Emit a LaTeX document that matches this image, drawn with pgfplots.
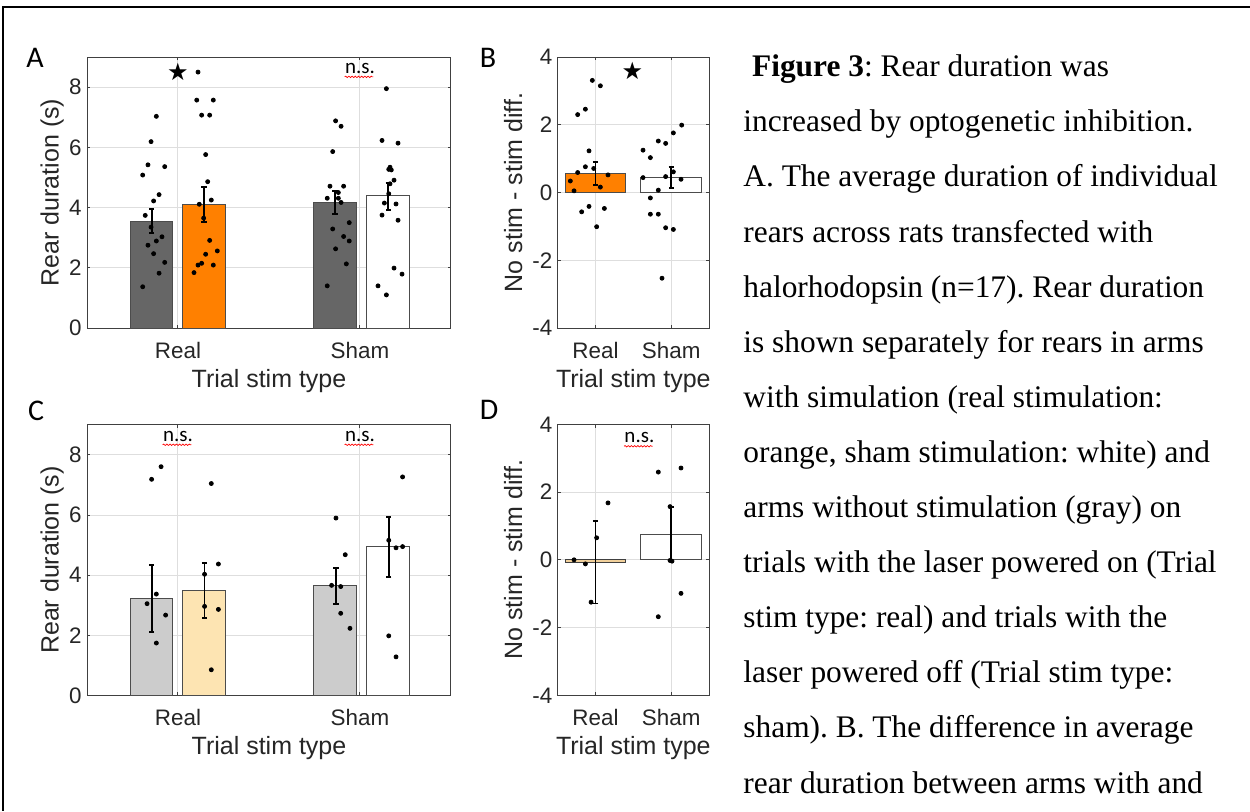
\documentclass[border=0pt]{standalone}
\usepackage{pgfplots}
\pgfplotsset{compat=1.18}
\usepackage{fontspec}
\setmainfont{Liberation Sans}
\newfontfamily\capfont{Liberation Serif}
\newfontfamily\calfont{Carlito}
\newfontfamily\symfont{DejaVu Sans}
\usetikzlibrary{decorations.pathmorphing}
\frenchspacing
\definecolor{dgray}{RGB}{102,102,102}
\definecolor{morange}{RGB}{255,128,0}
\definecolor{lgray}{RGB}{204,204,204}
\definecolor{lorange}{RGB}{253,228,178}
\tikzset{
 ns/.style={font=\calfont\fontsize{10.5}{12}\selectfont, inner sep=0pt, text=black},
 star/.style={font=\symfont\fontsize{12}{14}\selectfont, inner sep=0pt, text=black},
 wavy/.style={red, line width=0.35pt, decorate, decoration={snake, amplitude=0.35pt, segment length=1.6pt}},
}
\pgfplotsset{
 panel/.style={scale only axis, xmin=0.5, xmax=2.5, xtick={1,2}, xticklabels={Real,Sham},
  grid=major, major grid style={black!13, line width=0.5pt},
  axis line style={black!75, line width=0.5pt},
  major tick style={black!75, line width=0.5pt}, major tick length=1.6pt,
  tick label style={font=\fontsize{11.2}{13}\selectfont, text=black!85},
  xticklabel style={inner sep=0pt, yshift=-7pt},
  yticklabel style={inner sep=0pt, xshift=-2.5pt},
  label style={font=\fontsize{12.5}{14}\selectfont, text=black!85},
  xlabel={Trial stim type},
  xlabel style={at={(axis description cs:0.5,-0.195)}, anchor=center},
  clip=false},
 wide/.style={panel, width=182pt, ymin=0, ymax=9, ytick={0,2,4,6,8}, yticklabels={0,2,4,6,8},
  ylabel={Rear duration (s)}, ylabel style={at={(axis description cs:-0.096,0.5)}, anchor=center}},
 narrow/.style={panel, width=75.65pt, ymin=-4, ymax=4, ytick={-4,-2,0,2,4}, yticklabels={-4,-2,0,2,4},
  ylabel={No stim - stim diff.}, ylabel style={at={(axis description cs:-0.295,0.5)}, anchor=center}},
 barA/.style={ybar, bar width=0.233, bar shift=0pt, draw=black!70, line width=0.5pt},
 barB/.style={ybar, bar width=0.8, bar shift=0pt, draw=black!70, line width=0.5pt},
 dots/.style={only marks, mark=*, mark size=1pt, black, mark options={draw=black, fill=black}},
 errs/.style={draw=none, mark=none, forget plot, error bars/.cd, y dir=both, y explicit,
  error bar style={draw=black, line width=0.9pt},
  error mark options={draw=black, rotate=90, mark size=1.3pt, line width=0.9pt}},
}
\begin{document}
\begin{tikzpicture}
\useasboundingbox (0,0) rectangle (625pt,-405.5pt);
\fill[white] (0,0) rectangle (625pt,-405.5pt);
\draw[line width=1pt] (625pt,-3.5pt) -- (1.5pt,-3.5pt) -- (1.5pt,-405.5pt);

% ---------- Panel A ----------
\begin{axis}[wide, at={(43.5pt,-164pt)}, anchor=south west, height=135.5pt]
\addplot[barA, fill=dgray] coordinates {(0.853,3.54) (1.863,4.18)};
\addplot[barA, fill=morange] coordinates {(1.143,4.09)};
\addplot[barA, fill=white] coordinates {(2.154,4.39)};
\addplot[dots] coordinates {
(0.881,7.03) (0.852,6.19) (0.835,5.42) (0.806,5.08) (0.927,5.36) (0.896,4.43) (0.866,4.22) (0.820,3.74)
(0.852,3.35) (0.912,3.03) (0.881,2.89) (0.835,2.75) (0.866,2.47) (0.927,2.18) (0.896,1.82) (0.806,1.37)};
\addplot[dots] coordinates {
(1.110,8.50) (1.103,7.57) (1.194,7.57) (1.130,7.07) (1.174,7.07) (1.152,5.76) (1.163,4.86) (1.117,4.11)
(1.183,4.25) (1.141,3.65) (1.174,2.91) (1.152,2.45) (1.216,2.56) (1.130,2.15) (1.110,2.09) (1.194,2.09) (1.088,1.84)};
\addplot[dots] coordinates {
(1.866,6.88) (1.896,6.70) (1.850,5.86) (1.835,4.71) (1.910,4.71) (1.881,4.50) (1.820,4.31) (1.881,4.31)
(1.896,4.17) (1.941,3.50) (1.850,3.29) (1.910,3.04) (1.941,2.89) (1.866,2.63) (1.925,2.13) (1.820,1.40)};
\addplot[dots] coordinates {
(2.145,7.95) (2.121,6.23) (2.209,6.14) (2.165,5.34) (2.172,5.25) (2.158,5.27) (2.187,4.91) (2.165,4.79)
(2.158,4.46) (2.134,4.15) (2.198,4.12) (2.121,3.75) (2.209,3.58) (2.187,1.99) (2.231,1.79) (2.099,1.40) (2.145,1.10)};
\addplot[errs] coordinates {(0.855,3.55) +- (0,0.40) (1.143,4.095) +- (0,0.585) (1.863,4.175) +- (0,0.385) (2.155,4.375) +- (0,0.445)};
\node[star] at (axis cs:1,8.5) {★};
\node[ns] (nsA) at (axis cs:2,8.62) {n.s.};
\draw[wavy] ([yshift=-1.7pt]nsA.base west) -- ([yshift=-1.7pt,xshift=-1pt]nsA.base east);
\end{axis}

% ---------- Panel B ----------
\begin{axis}[narrow, at={(278.85pt,-164pt)}, anchor=south west, height=135.5pt]
\addplot[barB, fill=morange] coordinates {(1,0.56)};
\addplot[barB, fill=white] coordinates {(2,0.445)};
\addplot[dots] coordinates {
(0.958,3.31) (1.064,3.15) (0.866,2.46) (0.764,2.30) (0.914,1.23) (0.866,0.76) (0.764,0.59) (0.976,0.71)
(1.165,0.52) (0.667,0.34) (0.716,0.05) (1.064,0.16) (0.817,-0.57) (0.914,-0.41) (1.117,-0.47) (1.015,-1.01)};
\addplot[dots] coordinates {
(2.139,1.99) (2.029,1.76) (1.830,1.52) (1.927,1.45) (1.628,1.25) (1.725,1.03) (2.029,0.61) (1.628,0.44)
(1.927,0.47) (2.130,0.39) (1.830,0.07) (1.725,-0.16) (1.725,-0.64) (1.830,-0.64) (1.927,-1.04) (2.029,-1.09) (1.879,-2.53)};
\addplot[errs] coordinates {(1,0.56) +- (0,0.34) (2,0.445) +- (0,0.305)};
\node[star] at (axis cs:1.486,3.59) {★};
\end{axis}

% ---------- Panel C ----------
\begin{axis}[wide, at={(43.5pt,-347.65pt)}, anchor=south west, height=135.2pt]
\addplot[barA, fill=lgray] coordinates {(0.853,3.22) (1.863,3.64)};
\addplot[barA, fill=lorange] coordinates {(1.143,3.50)};
\addplot[barA, fill=white] coordinates {(2.154,4.94)};
\addplot[dots] coordinates {(0.907,7.61) (0.855,7.19) (0.881,3.37) (0.830,3.05) (0.932,2.67) (0.881,1.74)};
\addplot[dots] coordinates {(1.183,7.05) (1.222,4.37) (1.146,4.03) (1.146,2.96) (1.222,2.86) (1.183,0.85)};
\addplot[dots] coordinates {(1.868,5.90) (1.919,4.68) (1.844,3.66) (1.894,3.62) (1.894,2.73) (1.945,2.23)};
\addplot[dots] coordinates {(2.234,7.27) (2.158,5.16) (2.198,4.91) (2.234,4.95) (2.158,1.98) (2.198,1.28)};
\addplot[errs] coordinates {(0.855,3.215) +- (0,1.115) (1.146,3.49) +- (0,0.92) (1.868,3.64) +- (0,0.59) (2.158,4.935) +- (0,0.995)};
\node[ns] (nsC1) at (axis cs:1,8.62) {n.s.};
\draw[wavy] ([yshift=-1.7pt]nsC1.base west) -- ([yshift=-1.7pt,xshift=-1pt]nsC1.base east);
\node[ns] (nsC2) at (axis cs:2,8.62) {n.s.};
\draw[wavy] ([yshift=-1.7pt]nsC2.base west) -- ([yshift=-1.7pt,xshift=-1pt]nsC2.base east);
\end{axis}

% ---------- Panel D ----------
\begin{axis}[narrow, at={(278.85pt,-347.65pt)}, anchor=south west, height=135.5pt]
\addplot[barB, fill=lorange!80!brown, draw=black!75] coordinates {(1,-0.07)};
\addplot[barB, fill=white] coordinates {(2,0.75)};
\addplot[dots] coordinates {(0.716,0.00) (0.866,-0.12) (1.165,1.68) (1.015,0.65) (0.941,-1.25)};
\addplot[dots] coordinates {(1.830,2.59) (2.130,2.71) (1.985,1.57) (1.985,-0.02) (2.011,-0.04) (2.130,-0.99) (1.830,-1.68)};
\addplot[errs] coordinates {(1,-0.075) +- (0,1.215) (2,0.76) +- (0,0.81)};
\node[ns] (nsD) at (axis cs:1.58,3.6) {n.s.};
\draw[wavy] ([yshift=-1.7pt]nsD.base west) -- ([yshift=-1.7pt,xshift=-1pt]nsD.base east);
\end{axis}

% ---------- panel letters ----------
\begin{scope}[every node/.style={font=\calfont\fontsize{15}{17}\selectfont, inner sep=0pt}]
\node at (17.5pt,-29pt) {A};
\node at (244pt,-29pt) {B};
\node at (18pt,-205.5pt) {C};
\node at (244.5pt,-205pt) {D};
\end{scope}

% ---------- caption ----------
\begin{scope}[every node/.style={font=\capfont\fontsize{15.7}{18}\selectfont\frenchspacing, anchor=base west, inner sep=0pt}]
\node at (375.85pt,-38.35pt) {\textbf{Figure 3}: Rear duration was};
\node at (371.5pt,-65.9pt) {increased by optogenetic inhibition.};
\node at (371.5pt,-93.45pt) {A. The average duration of individual};
\node at (371.5pt,-121.0pt) {rears across rats transfected with};
\node at (371.5pt,-148.55pt) {halorhodopsin (n=17). Rear duration};
\node at (371.5pt,-176.1pt) {is shown separately for rears in arms};
\node at (371.5pt,-203.65pt) {with simulation (real stimulation:};
\node at (371.5pt,-231.2pt) {orange, sham stimulation: white) and};
\node at (371.5pt,-258.75pt) {arms without stimulation (gray) on};
\node at (371.5pt,-286.3pt) {trials with the laser powered on (Trial};
\node at (371.5pt,-313.85pt) {stim type: real) and trials with the};
\node at (371.5pt,-341.4pt) {laser powered off (Trial stim type:};
\node at (371.5pt,-368.95pt) {sham). B. The difference in average};
\node at (371.5pt,-396.5pt) {rear duration between arms with and};
\end{scope}
\end{tikzpicture}
\end{document}
